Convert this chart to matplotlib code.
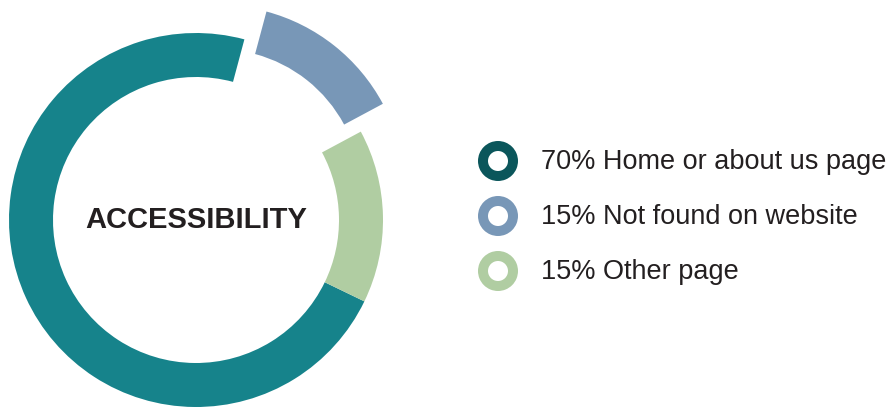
import matplotlib
matplotlib.use("Agg")
import matplotlib.pyplot as plt
from matplotlib.patches import Wedge

# Data (slice order counter-clockwise from the top): home, other, not found
slice_names = ["Home or about us page", "Other page", "Not found on website"]
slice_values = [72, 15, 13]          # arc sizes as drawn
slice_colors = ["#16838b", "#b0cda2", "#7897b7"]
slice_explode = [0, 0, 1]

legend_labels = ["70% Home or about us page", "15% Not found on website", "15% Other page"]
legend_colors = ["#0b565b", "#7897b7", "#b0cda2"]
center_title = "ACCESSIBILITY"

W, H = 889, 410
fig = plt.figure(figsize=(W / 100, H / 100), dpi=100)
ax = fig.add_axes([0, 0, 1, 1])

R = 187
cx, cy = 196, H - 221
ax.pie(slice_values, colors=slice_colors, startangle=75, counterclock=True,
       radius=R, center=(cx, cy), explode=[e * 0.19 * R for e in slice_explode],
       wedgeprops=dict(width=44, linewidth=0), frame=True)
ax.set_xlim(0, W)
ax.set_ylim(0, H)
ax.set_aspect("equal")
ax.axis("off")

ax.text(cx, cy + 1, center_title, ha="center", va="center", fontsize=21,
        fontweight="bold", family="Liberation Sans", color="#231f20")

ys = [H - 162, H - 217, H - 272]
for lab, col, y in zip(legend_labels, legend_colors, ys):
    ax.add_patch(Wedge((498, y), 20, 0, 360, width=10, facecolor=col, linewidth=0))
    ax.text(541, y, lab, ha="left", va="center", fontsize=19.5,
            family="Liberation Sans", color="#231f20")

fig.savefig("out.png", dpi=100)
